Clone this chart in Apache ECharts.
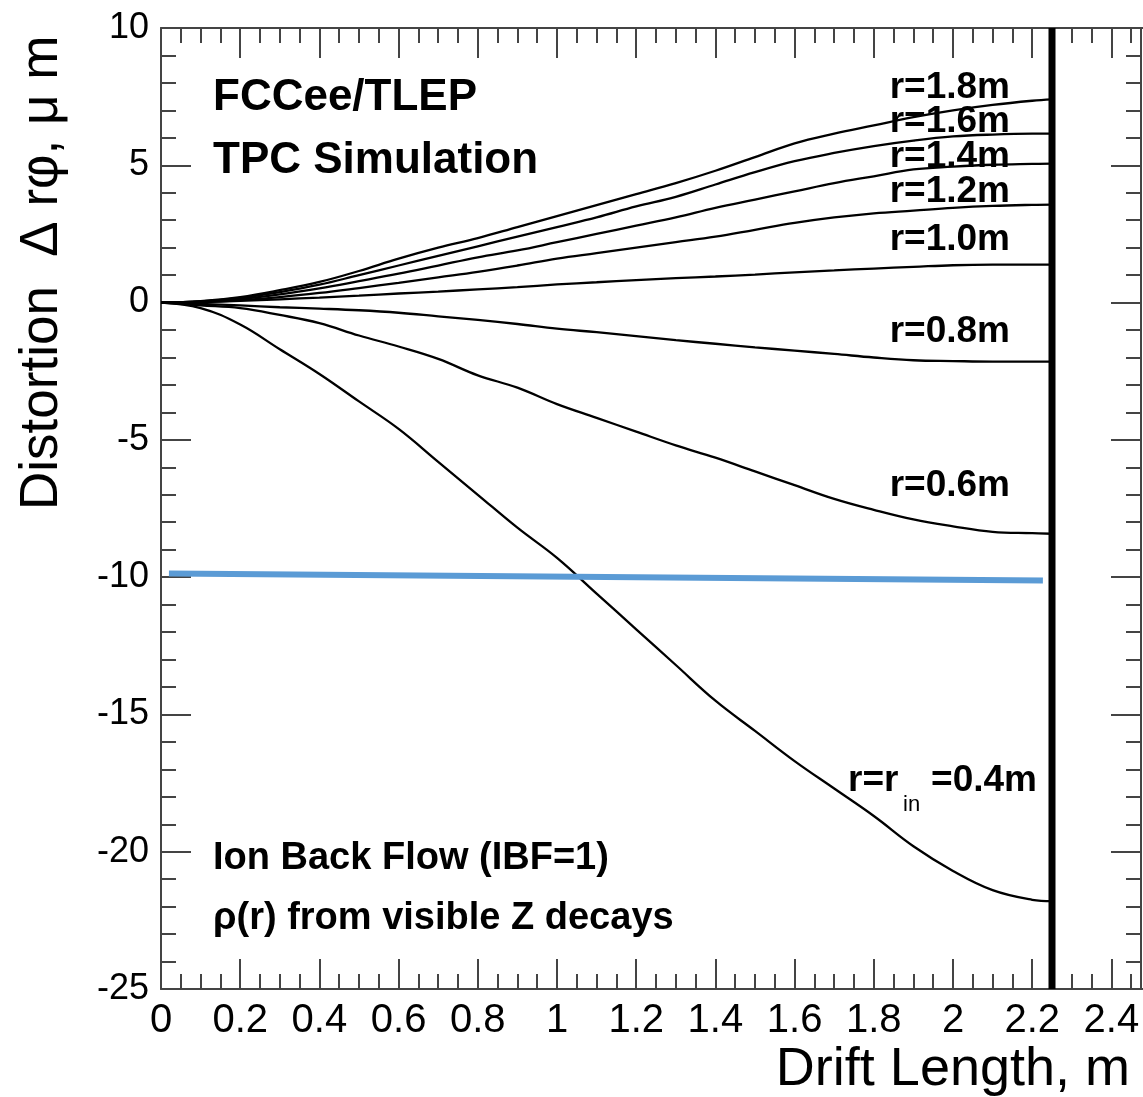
<!DOCTYPE html>
<html>
<head>
<meta charset="utf-8">
<script src="https://cdn.jsdelivr.net/npm/echarts@6/dist/echarts.min.js"></script>
<style>
html,body{margin:0;padding:0;background:#fff;overflow:hidden;}
#chart{width:1143px;height:1097px;}
</style>
</head>
<body>
<div id="chart"></div>
<script>
// ---- data ----
var driftX = [0,0.1,0.2,0.3,0.4,0.5,0.6,0.7,0.8,0.9,1.0,1.1,1.2,1.3,1.4,1.5,1.6,1.7,1.8,1.9,2.0,2.1,2.2,2.25];
var r18 = [0,0.05,0.2,0.45,0.75,1.15,1.6,2.0,2.35,2.75,3.15,3.55,3.95,4.35,4.8,5.3,5.8,6.15,6.45,6.75,7.0,7.2,7.35,7.4];
var r16 = [0,0.04,0.17,0.38,0.65,1.0,1.35,1.7,2.05,2.4,2.75,3.1,3.5,3.85,4.3,4.75,5.15,5.45,5.7,5.9,6.05,6.12,6.15,6.15];
var r14 = [0,0.03,0.13,0.3,0.52,0.78,1.05,1.35,1.65,1.9,2.2,2.5,2.8,3.1,3.45,3.75,4.05,4.35,4.6,4.85,4.95,5.02,5.05,5.06];
var r12 = [0,0.02,0.09,0.2,0.35,0.53,0.72,0.92,1.12,1.35,1.6,1.8,2.0,2.2,2.4,2.65,2.9,3.1,3.25,3.35,3.45,3.52,3.56,3.57];
var r10 = [0,0.02,0.06,0.12,0.18,0.25,0.33,0.4,0.48,0.56,0.66,0.74,0.82,0.89,0.95,1.02,1.1,1.17,1.24,1.3,1.36,1.38,1.38,1.38];
var r08 = [0,-0.05,-0.1,-0.17,-0.22,-0.28,-0.37,-0.5,-0.63,-0.78,-0.95,-1.08,-1.22,-1.37,-1.5,-1.63,-1.75,-1.87,-2.0,-2.1,-2.13,-2.15,-2.15,-2.15];
var r06 = [0,-0.1,-0.2,-0.45,-0.75,-1.2,-1.6,-2.05,-2.65,-3.1,-3.7,-4.2,-4.7,-5.2,-5.65,-6.15,-6.65,-7.15,-7.55,-7.9,-8.15,-8.35,-8.4,-8.42];
var r04 = [0,-0.2,-0.8,-1.7,-2.6,-3.6,-4.6,-5.8,-7.0,-8.2,-9.3,-10.6,-11.9,-13.2,-14.5,-15.6,-16.7,-17.7,-18.7,-19.8,-20.7,-21.4,-21.75,-21.8];
var wallX = [2.25, 2.25];
var wallY = [-25, 10];
var blueX = [0.02, 2.227];
var blueY = [-9.87, -10.12];
var xTicks = [0,0.2,0.4,0.6,0.8,1,1.2,1.4,1.6,1.8,2,2.2,2.4];
var yTicks = [-25,-20,-15,-10,-5,0,5,10];

function pairs(xs, ys){ return xs.map(function(x,i){ return [x, ys[i]]; }); }

var FONT = '"Liberation Sans", Arial, Helvetica, sans-serif';
var AX = '#444';

function xAx(pos, labels){
  return {
    type:'value', min:0, max:2.5, interval:0.2, position:pos,
    axisLine:{show:true, onZero:false, lineStyle:{color:AX, width:2}},
    axisTick:{show:true, inside:true, length:30, lineStyle:{color:AX, width:2}},
    minorTick:{show:true, splitNumber:4, length:15, lineStyle:{color:AX, width:2}},
    splitLine:{show:false}, minorSplitLine:{show:false},
    axisLabel:{show:labels, fontSize:40, color:'#000', fontFamily:FONT, margin:12, showMaxLabel:false,
      formatter:function(v){
        for (var i=0;i<xTicks.length;i++){ if (Math.abs(xTicks[i]-v)<1e-6) return String(xTicks[i]); }
        return '';
      }}
  };
}
function yAx(pos, labels, offset){
  return {
    type:'value', min:-25, max:10, interval:5, position:pos, offset:offset,
    axisLine:{show:true, onZero:false, lineStyle:{color:AX, width:2}},
    axisTick:{show:true, inside:true, length:30, lineStyle:{color:AX, width:2}},
    minorTick:{show:true, splitNumber:5, length:15, lineStyle:{color:AX, width:2}},
    splitLine:{show:false}, minorSplitLine:{show:false},
    axisLabel:{show:labels, fontSize:36, color:'#000', fontFamily:FONT, margin:12,
      formatter:function(v){
        for (var i=0;i<yTicks.length;i++){ if (Math.abs(yTicks[i]-v)<1e-6) return String(yTicks[i]); }
        return '';
      }}
  };
}

function curve(name, ys){
  return {
    name:name, type:'line', xAxisIndex:0, yAxisIndex:0,
    data:pairs(driftX, ys), showSymbol:false, smooth:0.4,
    lineStyle:{color:'#000', width:2.3}, z:3, silent:true
  };
}

function txt(t, x, y, size, opts){
  opts = opts || {};
  return {
    type:'text', x:x, y:y, rotation:opts.rotation||0, z:10, silent:true,
    style:{text:t, fontSize:size, fontWeight:opts.bold?'bold':'normal', fontFamily:FONT,
      fill:'#000', align:opts.align||'left', verticalAlign:opts.va||'middle'}
  };
}

var chart = echarts.init(document.getElementById('chart'), null, {renderer:'canvas'});
chart.setOption({
  animation:false,
  backgroundColor:'#fff',
  grid:{left:161, width:990, top:28, bottom:108, containLabel:false, outerBoundsMode:'none'},
  xAxis:[xAx('bottom', true), xAx('top', false)],
  yAxis:[yAx('left', true, 0), yAx('right', false, -10)],
  series:[
    curve('r=1.8m', r18), curve('r=1.6m', r16), curve('r=1.4m', r14),
    curve('r=1.2m', r12), curve('r=1.0m', r10), curve('r=0.8m', r08),
    curve('r=0.6m', r06), curve('r=0.4m', r04),
    {name:'wall', type:'line', data:pairs(wallX, wallY), showSymbol:false,
     lineStyle:{color:'#000', width:7}, z:4, silent:true},
    {name:'limit', type:'line', data:pairs(blueX, blueY), showSymbol:false,
     lineStyle:{color:'#5B9BD5', width:6}, z:5, silent:true}
  ],
  graphic:[
    txt('FCCee/TLEP', 213, 98, 44, {bold:true}),
    txt('TPC Simulation', 213, 161, 44, {bold:true}),
    txt('Ion Back Flow (IBF=1)', 213, 859, 38, {bold:true}),
    txt('\u03c1(r) from visible Z decays', 213, 919, 38, {bold:true}),
    txt('r=1.8m', 1010, 88, 37, {bold:true, align:'right'}),
    txt('r=1.6m', 1010, 122, 37, {bold:true, align:'right'}),
    txt('r=1.4m', 1010, 157, 37, {bold:true, align:'right'}),
    txt('r=1.2m', 1010, 192, 37, {bold:true, align:'right'}),
    txt('r=1.0m', 1010, 240, 37, {bold:true, align:'right'}),
    txt('r=0.8m', 1010, 332, 37, {bold:true, align:'right'}),
    txt('r=0.6m', 1010, 486, 37, {bold:true, align:'right'}),
    txt('r=r', 848, 781, 37, {bold:true}),
    txt('in', 903, 805, 22, {}),
    txt('=0.4m', 1037, 781, 37, {bold:true, align:'right'}),
    txt('Drift Length, m', 1130, 1070, 54, {align:'right'}),
    txt('Distortion  \u0394 r\u03c6, \u03bc m', 42, 510, 53, {rotation:Math.PI/2, align:'left'})
  ]
});
</script>
</body>
</html>
